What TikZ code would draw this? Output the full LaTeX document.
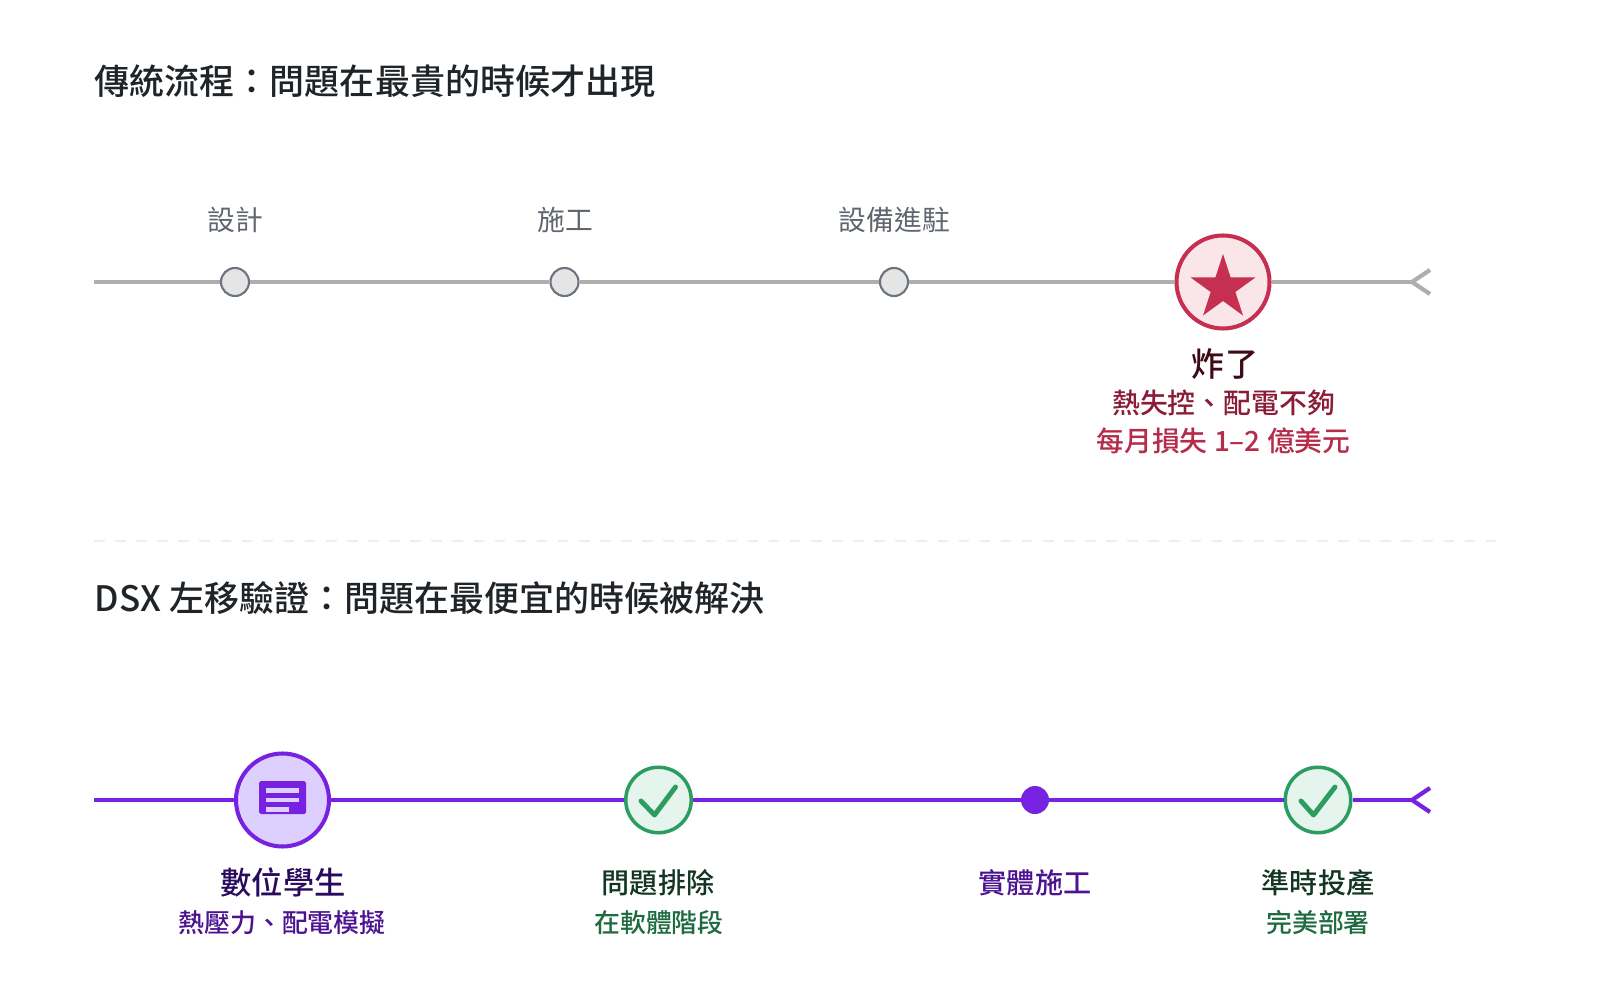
\documentclass[tikz,border=0pt]{standalone}
\usepackage{fontspec}
\setmainfont{Noto Sans CJK TC}
\newfontfamily\cjkmed{Noto Sans CJK TC Medium}
\usetikzlibrary{shapes.geometric}
\definecolor{greyline}{HTML}{AEAEAE}
\definecolor{greydot}{HTML}{E5E5E5}
\definecolor{greyrim}{HTML}{6C757D}
\definecolor{greytxt}{HTML}{5F666D}
\definecolor{dashgrey}{HTML}{EEEEEE}
\definecolor{titletxt}{HTML}{1F2428}
\definecolor{redrim}{HTML}{C63050}
\definecolor{redfill}{HTML}{FAE6E9}
\definecolor{reddark}{HTML}{3D0A16}
\definecolor{redmid}{HTML}{8A1C38}
\definecolor{redtxt}{HTML}{B52B4A}
\definecolor{purpleline}{HTML}{7722E0}
\definecolor{purplefill}{HTML}{DDD0FF}
\definecolor{purpledark}{HTML}{2A0A5E}
\definecolor{purpletxt}{HTML}{4C1290}
\definecolor{greenrim}{HTML}{2A9D5F}
\definecolor{greenfill}{HTML}{E6F4EE}
\definecolor{greendark}{HTML}{123524}
\definecolor{greentxt}{HTML}{1F6B40}
\tikzset{
  heading/.style={anchor=west, inner sep=0pt, text=titletxt, font=\cjkmed\fontsize{9.97pt}{12pt}\selectfont},
  smalltxt/.style={inner sep=0pt, font=\fontsize{7.9pt}{10pt}\selectfont},
  subtxt/.style={inner sep=0pt, font=\cjkmed\fontsize{7.37pt}{10pt}\selectfont},
  redtxtb/.style={inner sep=0pt, font=\cjkmed\fontsize{7.92pt}{10pt}\selectfont},
  bigtxt/.style={inner sep=0pt, font=\cjkmed\fontsize{8.9pt}{11pt}\selectfont},
  boomtxt/.style={inner sep=0pt, font=\cjkmed\fontsize{9.4pt}{11pt}\selectfont},
  midtxt/.style={inner sep=0pt, font=\cjkmed\fontsize{8pt}{10pt}\selectfont},
  greyseg/.style={draw=greyline, line width=1.2pt},
  purpleseg/.style={draw=purpleline, line width=1.2pt},
  greyk/.style={draw=greyrim, fill=greydot, circle, line width=0.6pt, minimum size=0.28cm, inner sep=0pt},
  redk/.style={draw=redrim, fill=redfill, circle, line width=1.15pt, minimum size=0.93cm, inner sep=0pt},
  purplek/.style={draw=purpleline, fill=purplefill, circle, line width=1.15pt, minimum size=0.93cm, inner sep=0pt},
  greenk/.style={draw=greenrim, fill=greenfill, circle, line width=1pt, minimum size=0.655cm, inner sep=0pt},
  dotk/.style={fill=purpleline, circle, minimum size=0.28cm, inner sep=0pt, outer sep=0pt},
  tick/.style={draw=greenrim, line width=1.4pt, line cap=round, line join=round}
}
\begin{document}
\begin{tikzpicture}
\useasboundingbox (0,0) rectangle (16,-9.88);

\node[heading] (title0) at (0.94,-0.81) {傳統流程：問題在最貴的時候才出現};
\node[heading] (title1) at (0.94,-5.985) {DSX 左移驗證：問題在最便宜的時候被解決};

% top line
\coordinate (s0) at (0.94,-2.82);
\coordinate (e0) at (14.12,-2.82);
\node[greyk] (k0) at (2.35,-2.82) {};
\node[greyk] (k1) at (5.645,-2.82) {};
\node[greyk] (k2) at (8.94,-2.82) {};
\node[redk] (k3) at (12.23,-2.82) {};
\node[fill=redrim, star, star points=5, star point ratio=2.618, minimum size=0.68cm, inner sep=0pt] (star) at (12.23,-2.88) {};

\draw[greyseg] (s0) -- (k0);
\draw[greyseg] (k0) -- (k1);
\draw[greyseg] (k1) -- (k2);
\draw[greyseg] (k2) -- (k3);
\draw[greyseg] (k3) -- (e0);
\draw[greyseg] (e0) ++(0.18,0.12) -- (e0) -- ++(0.18,-0.12);

\node[smalltxt, text=greytxt] (l0) at (2.35,-2.2) {設計};
\node[smalltxt, text=greytxt] (l1) at (5.655,-2.2) {施工};
\node[smalltxt, text=greytxt] (l2) at (8.945,-2.2) {設備進駐};
\node[boomtxt, text=reddark] (l3) at (12.25,-3.645) {炸了};
\node[redtxtb, text=redmid] (l4) at (12.235,-4.03) {熱失控、配電不夠};
\node[redtxtb, text=redtxt] (l5) at (12.235,-4.41) {每月損失 1–2 億美元};

\draw[draw=dashgrey, line width=0.3pt, dashed] (0.94,-5.41) -- (14.97,-5.41);

% bottom line
\coordinate (s1) at (0.94,-8);
\coordinate (e1) at (14.12,-8);
\node[purplek] (d0) at (2.825,-8) {};
\node[greenk] (d1) at (6.585,-8) {};
\node[dotk] (d2) at (10.35,-8) {};
\node[greenk] (d3) at (13.18,-8) {};

\draw[purpleseg] (s1) -- (d0);
\draw[purpleseg] (d0) -- (d1);
\draw[purpleseg] (d1) -- (d2);
\draw[purpleseg] (d2) -- (d3);
\draw[purpleseg] (d3) -- (e1);
\draw[purpleseg] (e1) ++(0.18,0.12) -- (e1) -- ++(0.18,-0.12);

\fill[purpleline, rounded corners=0.5pt] (2.59,-7.81) rectangle (3.06,-8.14);
\fill[purplefill] (2.66,-7.88) rectangle (2.99,-7.93);
\fill[purplefill] (2.66,-7.98) rectangle (2.99,-8.02);
\fill[purplefill] (2.66,-8.07) rectangle (2.89,-8.12);

\draw[tick] (6.41,-8.01) -- (6.545,-8.15) -- (6.755,-7.87);
\draw[tick] (13.01,-8.01) -- (13.135,-8.15) -- (13.35,-7.87);

\node[bigtxt, text=purpledark] (m0) at (2.83,-8.825) {數位學生};
\node[subtxt, text=purpletxt] (m1) at (2.82,-9.225) {熱壓力、配電模擬};
\node[midtxt, text=greendark] (m2) at (6.58,-8.83) {問題排除};
\node[subtxt, text=greentxt] (m3) at (6.59,-9.225) {在軟體階段};
\node[midtxt, text=purpletxt] (m4) at (10.35,-8.83) {實體施工};
\node[midtxt, text=greendark] (m5) at (13.18,-8.83) {準時投產};
\node[subtxt, text=greentxt] (m6) at (13.18,-9.225) {完美部署};
\end{tikzpicture}
\end{document}
